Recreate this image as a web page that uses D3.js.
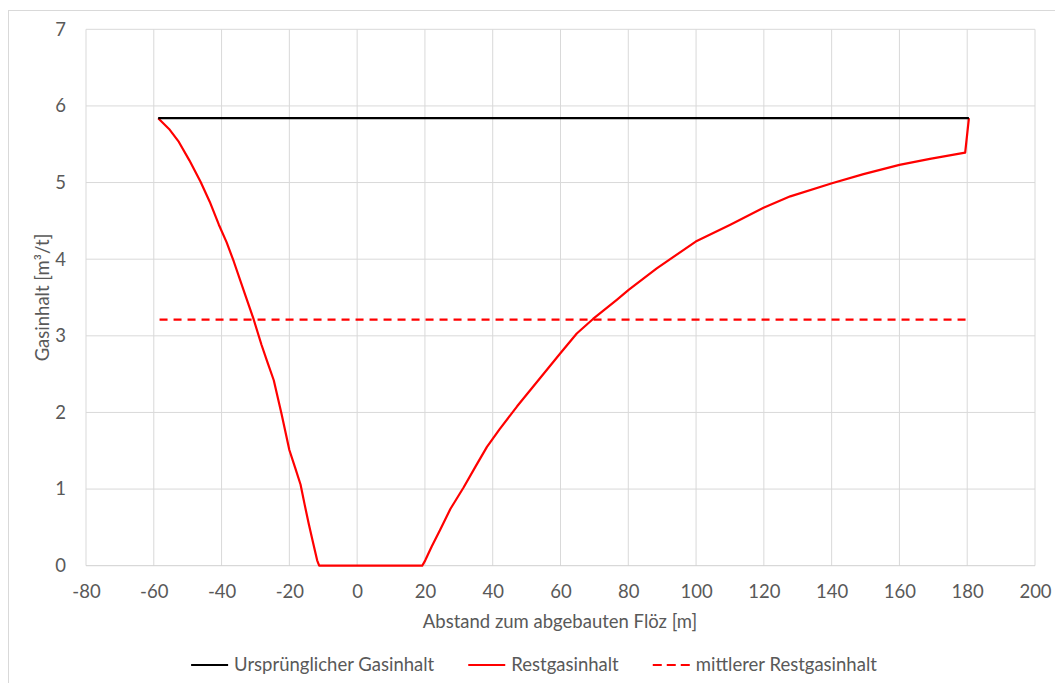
<!DOCTYPE html>
<html>
<head>
<meta charset="utf-8">
<script src="https://cdn.jsdelivr.net/npm/d3@7"></script>
<style>
  body { margin: 0; background: #fff; }
  text { font-family: Lato, "Open Sans", sans-serif; fill: #595959; }
</style>
</head>
<body>
<div class="canvas"></div>
<script>
// data
const restX = [-58.7, -55.5, -52.6, -49.5, -46.2, -43.5, -40.8, -38.5, -36.4, -33.0, -30.5, -28.2,
  -26.5, -24.6, -22.3, -20.0, -18.3, -16.7, -15.5, -14.3, -13.0, -11.8, -11.2, 19.2, 20.1, 22.0,
  24.5, 27.5, 31.4, 35.0, 38.3, 42.0, 47.2, 53.1, 59.9, 64.8, 69.6, 76.6, 80.1, 88.4, 99.9,
  110.1, 119.9, 127.8, 140.1, 149.4, 160.0, 169.0, 179.4, 180.5];
const restY = [5.84, 5.70, 5.53, 5.29, 5.01, 4.75, 4.45, 4.22, 3.97, 3.53, 3.21, 2.88,
  2.66, 2.42, 1.98, 1.51, 1.28, 1.06, 0.80, 0.55, 0.30, 0.07, 0.0, 0.0, 0.07, 0.25,
  0.47, 0.74, 1.02, 1.30, 1.55, 1.78, 2.08, 2.40, 2.77, 3.03, 3.22, 3.47, 3.60, 3.88, 4.23,
  4.45, 4.67, 4.82, 4.99, 5.11, 5.23, 5.31, 5.39, 5.84];
const origX = [-58.7, 180.5];
const origY = [5.84, 5.84];
const meanX = [-58.3, 180.8];
const meanY = [3.21, 3.21];

const xTicks = d3.range(-80, 201, 20);
const yTicks = d3.range(0, 8, 1);

const seriesNames = ["Ursprünglicher Gasinhalt", "Restgasinhalt", "mittlerer Restgasinhalt"];

// dimensions
const dims = { width: 1055, height: 683 };
const plot = { left: 86, right: 1035, top: 29.3, bottom: 565.7 };

const svg = d3
  .select(".canvas")
  .append("svg")
  .attr("width", dims.width)
  .attr("height", dims.height);

// chart border
svg
  .append("rect")
  .attr("x", 8.5)
  .attr("y", 10.5)
  .attr("width", 1100)
  .attr("height", 700)
  .attr("fill", "none")
  .attr("stroke", "#d9d9d9");

const x = d3.scaleLinear().domain([-80, 200]).range([plot.left, plot.right]);
const y = d3.scaleLinear().domain([0, 7]).range([plot.bottom, plot.top]);

// gridlines
const grid = svg.append("g");
grid
  .selectAll(".vgrid")
  .data(xTicks)
  .enter()
  .append("line")
  .attr("x1", d => x(d))
  .attr("x2", d => x(d))
  .attr("y1", y(0))
  .attr("y2", y(7))
  .attr("stroke", "#d9d9d9");
grid
  .selectAll(".hgrid")
  .data(yTicks)
  .enter()
  .append("line")
  .attr("x1", x(-80))
  .attr("x2", x(200))
  .attr("y1", d => y(d))
  .attr("y2", d => y(d))
  .attr("stroke", d => (d === 0 ? "#cfcfcf" : "#d9d9d9"));

// axes (labels only, no domain / ticks) - plain hyphen for negatives
const xAxis = d3
  .axisBottom(x)
  .tickValues(xTicks)
  .tickFormat(d => String(d))
  .tickSize(0)
  .tickPadding(19);
const yAxis = d3
  .axisLeft(y)
  .tickValues(yTicks)
  .tickFormat(d => String(d))
  .tickSize(0)
  .tickPadding(20);

const gx = svg
  .append("g")
  .attr("transform", `translate(0, ${plot.bottom})`)
  .call(xAxis);
const gy = svg
  .append("g")
  .attr("transform", `translate(${plot.left}, 0)`)
  .call(yAxis);

[gx, gy].forEach(g => {
  g.select(".domain").remove();
  g.selectAll("text")
    .attr("fill", "#595959")
    .style("font-family", "Lato, 'Open Sans', sans-serif")
    .style("font-size", "18.5px");
});

// axis titles
svg
  .append("text")
  .attr("x", 560)
  .attr("y", 628)
  .attr("text-anchor", "middle")
  .style("font-size", "18.5px")
  .text("Abstand zum abgebauten Flöz [m]");

svg
  .append("text")
  .attr("transform", `translate(49, ${(plot.top + plot.bottom) / 2}) rotate(-90)`)
  .attr("text-anchor", "middle")
  .style("font-size", "18.5px")
  .text("Gasinhalt [m³/t]");

// lines (straight segments between read points)
const line = d3
  .line()
  .x(d => x(d[0]))
  .y(d => y(d[1]));

svg
  .append("path")
  .datum(d3.zip(meanX, meanY))
  .attr("d", line)
  .attr("fill", "none")
  .attr("stroke", "#ff0000")
  .attr("stroke-width", 2.2)
  .attr("stroke-dasharray", "8,6");

svg
  .append("path")
  .datum(d3.zip(restX, restY))
  .attr("d", line)
  .attr("fill", "none")
  .attr("stroke", "#ff0000")
  .attr("stroke-width", 2.2)
  .attr("stroke-linejoin", "round");

svg
  .append("path")
  .datum(d3.zip(origX, origY))
  .attr("d", line)
  .attr("fill", "none")
  .attr("stroke", "#000")
  .attr("stroke-width", 2.2);

// legend
const legendStyles = [
  { color: "#000", dash: null },
  { color: "#ff0000", dash: null },
  { color: "#ff0000", dash: "9,5" }
];

const legendGroup = svg.append("g").attr("transform", "translate(0, 665)");
const items = legendGroup
  .selectAll("g")
  .data(seriesNames)
  .enter()
  .append("g");

items
  .append("line")
  .attr("x1", 0)
  .attr("x2", 37)
  .attr("stroke", (d, i) => legendStyles[i].color)
  .attr("stroke-width", 2.2)
  .attr("stroke-dasharray", (d, i) => legendStyles[i].dash);

items
  .append("text")
  .attr("x", 43)
  .attr("dy", "0.35em")
  .style("font-size", "18.5px")
  .text(d => d);

// lay legend items out side by side, centered
let offset = 0;
const gap = 34;
items.each(function() {
  const w = 43 + d3.select(this).select("text").node().getComputedTextLength();
  d3.select(this).attr("transform", `translate(${offset}, 0)`);
  offset += w + gap;
});
const total = offset - gap;
legendGroup.attr("transform", `translate(${534 - total / 2}, 665)`);
</script>
</body>
</html>
